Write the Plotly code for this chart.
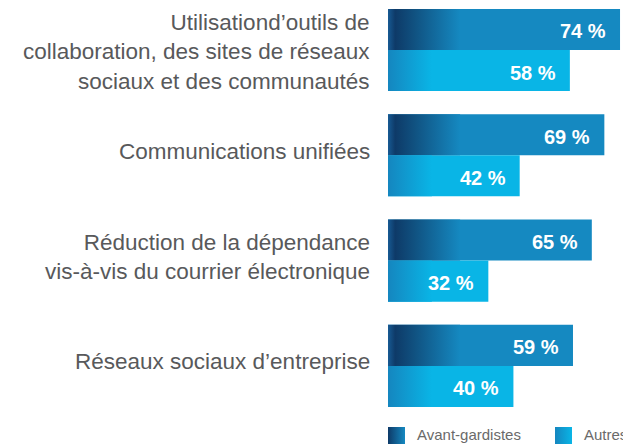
import plotly.graph_objects as go

categories = [
    "Utilisationd’outils de<br>collaboration, des sites de réseaux<br>sociaux et des communautés",
    "Communications unifiées",
    "Réduction de la dépendance<br>vis-à-vis du courrier électronique",
    "Réseaux sociaux d’entreprise",
]
avant_gardistes = [74, 69, 65, 59]
autres = [58, 42, 32, 40]
series_names = ["Avant-gardistes", "Autres"]
label_yshift = [-2, 4, 4, 4]

DARK = "#1589c1"
LIGHT = "#09b5e6"
NAVY = "#0e3a68"
W = 0.39
G_DARK = 23
G_LIGHT = 14

FIG_W, FIG_H = 623, 436   # page body adds an 8px margin
LEFT = 380
LEG_H = 24

idx = list(range(len(categories)))
fig = go.Figure()

fig.add_trace(go.Bar(y=idx, x=avant_gardistes, orientation="h", width=W, offset=-W,
                     marker=dict(color=DARK, line=dict(width=0)), name=series_names[0],
                     hoverinfo="skip"))
fig.add_trace(go.Bar(y=idx, x=autres, orientation="h", width=W, offset=0,
                     marker=dict(color=LIGHT, line=dict(width=0)), name=series_names[1],
                     hoverinfo="skip"))


def grad_poly(values, g, lo_off, hi_off):
    xs, ys = [], []
    for i, v in enumerate(values):
        gg = min(g, v)
        xs += [0, gg, gg, 0, 0, None]
        ys += [i + lo_off, i + lo_off, i + hi_off, i + hi_off, i + lo_off, None]
    return xs, ys


xs, ys = grad_poly(avant_gardistes, G_DARK, -W, 0)
fig.add_trace(go.Scatter(x=xs, y=ys, fill="toself", mode="lines", line=dict(width=0),
                         fillgradient=dict(type="horizontal", start=0, stop=G_DARK,
                                           colorscale=[[0, "#175a93"], [0.1, NAVY], [0.35, "#10507f"], [1, DARK]]),
                         hoverinfo="skip", showlegend=False))
xs, ys = grad_poly(autres, G_LIGHT, 0, W)
fig.add_trace(go.Scatter(x=xs, y=ys, fill="toself", mode="lines", line=dict(width=0),
                         fillgradient=dict(type="horizontal", start=0, stop=G_LIGHT,
                                           colorscale=[[0, "#1586bf"], [1, LIGHT]]),
                         hoverinfo="skip", showlegend=False))

annotations = []
for vals, off in ((avant_gardistes, -W / 2), (autres, W / 2)):
    for i, v in enumerate(vals):
        annotations.append(dict(x=v, y=i + off, xref="x", yref="y", text=f"{v} %",
                                showarrow=False, xanchor="right", xshift=-12, yshift=-2,
                                font=dict(family="Liberation Sans, Arial", size=20,
                                          color="white", weight="bold")))

# category labels
for i, cat in enumerate(categories):
    annotations.append(dict(x=0, y=i, xref="paper", yref="y", text=cat, showarrow=False,
                            xanchor="right", yanchor="middle", align="right",
                            xshift=-16, yshift=label_yshift[i],
                            font=dict(family="Liberation Sans, Arial", size=22.5, color="#58595b")))

# custom legend on an auxiliary pixel-like axis
leg_x = [LEFT, LEFT + 167]
leg_colors = [[[0, NAVY], [1, DARK]], [[0, "#1586bf"], [1, LIGHT]]]
for k, name in enumerate(series_names):
    x0 = leg_x[k]
    fig.add_trace(go.Scatter(x=[x0, x0 + 17, x0 + 17, x0, x0],
                             y=[FIG_H - 17, FIG_H - 17, FIG_H + 1, FIG_H + 1, FIG_H - 17],
                             xaxis="x2", yaxis="y2", fill="toself", mode="lines", line=dict(width=0),
                             fillgradient=dict(type="horizontal", start=x0, stop=x0 + 17,
                                               colorscale=leg_colors[k]),
                             hoverinfo="skip", showlegend=False))
    annotations.append(dict(x=x0 + 27, y=FIG_H - 10, xref="x2", yref="y2", text=name, showarrow=False,
                            xanchor="left", yanchor="middle",
                            font=dict(family="Liberation Sans, Arial", size=15, color="#6a6a6a")))

fig.update_layout(
    width=FIG_W, height=FIG_H,
    margin=dict(l=LEFT, r=0, t=0, b=0, autoexpand=False),
    paper_bgcolor="white", plot_bgcolor="white",
    showlegend=False,
    annotations=annotations,
    xaxis=dict(range=[0, 77.5], visible=False, fixedrange=True),
    yaxis=dict(range=[3.514, -0.399], domain=[LEG_H / FIG_H, 1], showticklabels=False,
               showgrid=False, zeroline=False, showline=False, ticks=""),
    xaxis2=dict(range=[LEFT, FIG_W], domain=[0, 1], anchor="y2", visible=False),
    yaxis2=dict(range=[FIG_H, FIG_H - LEG_H], domain=[0, LEG_H / FIG_H], anchor="x2", visible=False),
)

fig.write_html("out.html")
